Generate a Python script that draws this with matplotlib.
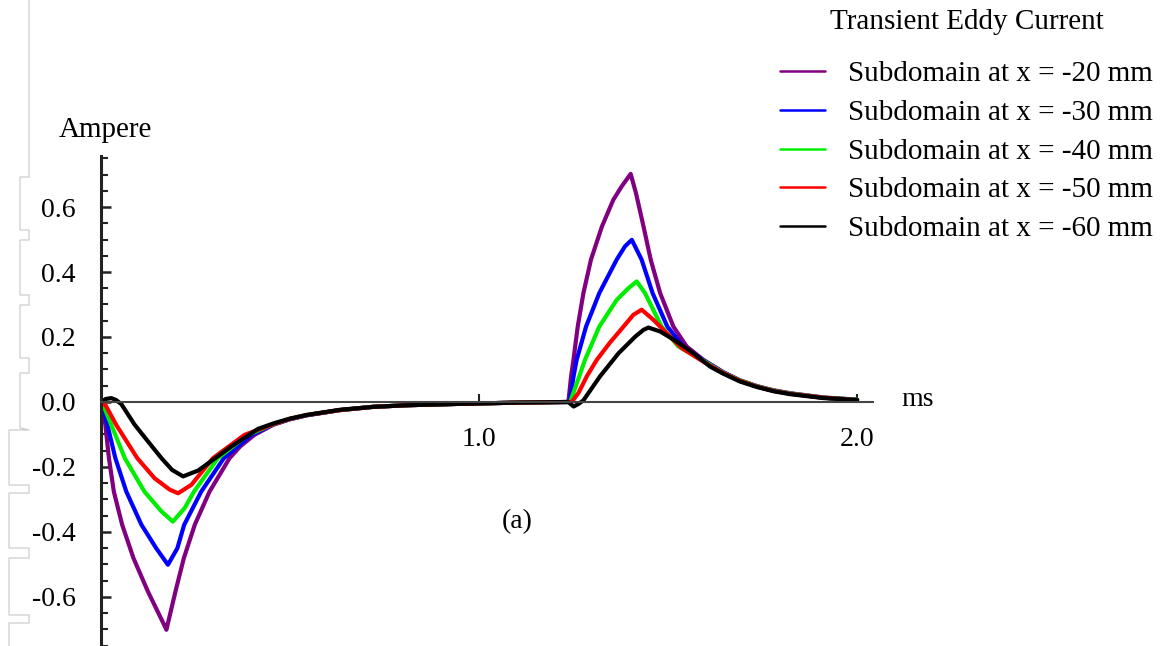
#!/usr/bin/env python3

import matplotlib
matplotlib.use('Agg')
import matplotlib.pyplot as plt
from matplotlib.lines import Line2D
from matplotlib.ticker import MultipleLocator, FixedLocator

# time (ms) / current (A) for each subdomain
t_20 = [0, 0.004, 0.0115, 0.021, 0.034, 0.056, 0.086, 0.124, 0.167, 0.173, 0.197, 0.219,
        0.248, 0.287, 0.340, 0.368, 0.406, 0.456, 0.500, 0.544, 0.632, 0.72, 0.809, 0.941,
        1.1, 1.2363, 1.2434, 1.2496, 1.261, 1.276, 1.296, 1.325, 1.355, 1.377, 1.401,
        1.415, 1.435, 1.454, 1.479, 1.514, 1.549, 1.593, 1.646, 1.690, 1.735, 1.779,
        1.823, 1.911, 2.0]
i_20 = [0, -0.02, -0.070, -0.173, -0.276, -0.378, -0.481, -0.583, -0.686, -0.701, -0.583, -0.481,
        -0.378, -0.276, -0.173, -0.137, -0.101, -0.070, -0.053, -0.041, -0.025, -0.015, -0.010, -0.006,
        -0.002, 0.0, 0.079, 0.129, 0.232, 0.335, 0.438, 0.540, 0.622, 0.663, 0.702,
        0.643, 0.540, 0.438, 0.335, 0.232, 0.171, 0.130, 0.092, 0.067, 0.049, 0.036,
        0.027, 0.014, 0.007]

t_30 = [0, 0.006, 0.0168, 0.038, 0.067, 0.107, 0.146, 0.177, 0.202, 0.220, 0.265, 0.325,
        0.398, 0.456, 0.500, 0.544, 0.632, 0.72, 0.809, 0.941, 1.1, 1.239, 1.250, 1.258,
        1.283, 1.318, 1.364, 1.386, 1.404, 1.430, 1.459, 1.498, 1.540, 1.593, 1.646,
        1.690, 1.735, 1.779, 1.823, 1.911, 2.0]
i_30 = [0, -0.02, -0.070, -0.173, -0.276, -0.378, -0.450, -0.501, -0.450, -0.378, -0.276, -0.173,
        -0.101, -0.069, -0.053, -0.041, -0.025, -0.015, -0.010, -0.006, -0.002, 0.0, 0.079, 0.129,
        0.232, 0.335, 0.438, 0.479, 0.499, 0.438, 0.335, 0.232, 0.171, 0.128, 0.091,
        0.066, 0.048, 0.035, 0.026, 0.013, 0.007]

t_40 = [0, 0.008, 0.027, 0.063, 0.115, 0.160, 0.190, 0.221, 0.246, 0.309, 0.389, 0.456,
        0.500, 0.544, 0.632, 0.72, 0.809, 0.941, 1.1, 1.241, 1.265, 1.280, 1.318, 1.364,
        1.395, 1.417, 1.439, 1.461, 1.483, 1.527, 1.593, 1.646, 1.690, 1.735, 1.779,
        1.823, 1.911, 2.0]
i_40 = [0, -0.015, -0.070, -0.173, -0.276, -0.337, -0.368, -0.327, -0.276, -0.173, -0.101, -0.068,
        -0.052, -0.040, -0.025, -0.015, -0.010, -0.006, -0.002, 0.0, 0.079, 0.129, 0.232, 0.314,
        0.350, 0.371, 0.335, 0.283, 0.232, 0.171, 0.127, 0.090, 0.066, 0.048, 0.035,
        0.026, 0.013, 0.007]

t_50 = [0, 0.012, 0.040, 0.096, 0.142, 0.182, 0.204, 0.239, 0.296, 0.380, 0.456, 0.500,
        0.544, 0.632, 0.72, 0.809, 0.941, 1.1, 1.245, 1.263, 1.285, 1.311, 1.345, 1.382,
        1.408, 1.430, 1.461, 1.496, 1.536, 1.593, 1.646, 1.690, 1.735, 1.779, 1.823,
        1.911, 2.0]
i_50 = [0, -0.01, -0.070, -0.173, -0.235, -0.270, -0.281, -0.255, -0.173, -0.101, -0.068, -0.052,
        -0.040, -0.025, -0.015, -0.010, -0.006, -0.002, 0.0, 0.028, 0.079, 0.129, 0.181, 0.232,
        0.268, 0.284, 0.253, 0.212, 0.166, 0.124, 0.089, 0.065, 0.047, 0.034, 0.025,
        0.013, 0.006]

t_60 = [0, 0.012, 0.027, 0.040, 0.054, 0.089, 0.124, 0.160, 0.188, 0.217, 0.257, 0.345,
        0.415, 0.456, 0.500, 0.544, 0.632, 0.72, 0.809, 0.941, 1.1, 1.236, 1.250, 1.263,
        1.276, 1.320, 1.369, 1.413, 1.435, 1.448, 1.479, 1.523, 1.567, 1.611, 1.646,
        1.690, 1.735, 1.779, 1.823, 1.911, 2.0]
i_60 = [0, 0.009, 0.012, 0.006, -0.007, -0.070, -0.121, -0.173, -0.209, -0.229, -0.211, -0.137,
        -0.083, -0.066, -0.051, -0.040, -0.024, -0.015, -0.010, -0.006, -0.002, 0.0, -0.014, -0.006,
        0.005, 0.079, 0.150, 0.201, 0.222, 0.229, 0.217, 0.186, 0.150, 0.109, 0.087,
        0.063, 0.046, 0.033, 0.024, 0.012, 0.006]

labels = ['Subdomain at x = -20 mm', 'Subdomain at x = -30 mm', 'Subdomain at x = -40 mm',
          'Subdomain at x = -50 mm', 'Subdomain at x = -60 mm']
colors = ['#800080', '#0000ff', '#00ee00', '#ff0000', '#000000']

plt.rcParams['font.family'] = ['Liberation Serif', 'DejaVu Serif']

W, H = 1163, 646
fig = plt.figure(figsize=(W / 100, H / 100), dpi=100)
ax = fig.add_axes([101 / W, 0, 772 / W, 490 / H])
ax.set_xlim(0, 2.042)
ax.set_ylim(-0.751, 0.757)

series = [(t_20, i_20), (t_30, i_30), (t_40, i_40), (t_50, i_50), (t_60, i_60)]
handles = []
for (t, i), c, lab in zip(series, colors, labels):
    ln, = ax.plot(t, i, color=c, lw=3.0, solid_joinstyle='round', solid_capstyle='round',
                  label=lab)
    handles.append(ln)

# axes crossing at the origin
for s in ['top', 'right']:
    ax.spines[s].set_visible(False)
ax.spines['bottom'].set_position(('data', 0))
ax.spines['bottom'].set_color('#444444')
ax.spines['bottom'].set_linewidth(1.5)
ax.spines['left'].set_linewidth(2.2)
ax.spines['left'].set_color('#222222')

ax.yaxis.set_major_locator(FixedLocator([-0.6, -0.4, -0.2, 0.0, 0.2, 0.4, 0.6]))
ax.yaxis.set_minor_locator(MultipleLocator(0.05))
ax.set_yticklabels(['-0.6', '-0.4', '-0.2', '0.0', '0.2', '0.4', '0.6'])
ax.tick_params(axis='y', which='major', direction='in', length=7, width=1.8,
               labelsize=20, pad=18, color='#222222')
ax.tick_params(axis='y', which='minor', direction='in', length=5, width=1.5, color='#222222')

ax.xaxis.set_major_locator(FixedLocator([1.0, 2.0]))
ax.set_xticklabels(['1.0', '2.0'])
ax.tick_params(axis='x', which='major', direction='in', length=6, width=1.5,
               labelsize=20, pad=18, color='#222222')

fig.text(918 / W, 1 - 400 / H, 'ms', fontsize=20, ha='center', va='center')
fig.text(105 / W, 1 - 130 / H, 'Ampere', fontsize=21, ha='center', va='center')
fig.text(517 / W, 1 - 522 / H, '(a)', fontsize=20, ha='center', va='center')

# legend with its heading placed above
fig.text(967 / W, 1 - 22 / H, 'Transient Eddy Current', fontsize=21, ha='center', va='center')
leg = fig.legend(handles=handles, loc='upper left', bbox_to_anchor=(780 / W, 1 - 61 / H),
                 frameon=False, fontsize=21, handlelength=1.55, handletextpad=0.78,
                 labelspacing=0.42, borderpad=0, borderaxespad=0)
for hl in leg.get_lines():
    hl.set_linewidth(1.8)

# frame markers along the left edge
fx = [29, 29, 20, 20, 29, 29, 20, 20, 29, 29, 20, 20, 29, 29, 20, 20, 29,
      9, 9, 29, 29, 9, 9, 29, 29, 9, 9, 29, 29, 9, 9]
fy = [0, 177, 177, 230, 230, 240, 240, 295, 295, 305, 305, 358, 358, 373, 373, 428, 430,
      430, 485, 485, 493, 493, 548, 548, 558, 558, 615, 615, 623, 623, 646]
fig.add_artist(Line2D([x / W for x in fx], [1 - y / H for y in fy],
                      transform=fig.transFigure, color='#c8c8c8', lw=0.8))

plt.savefig('out.png', dpi=100)
plt.close()
